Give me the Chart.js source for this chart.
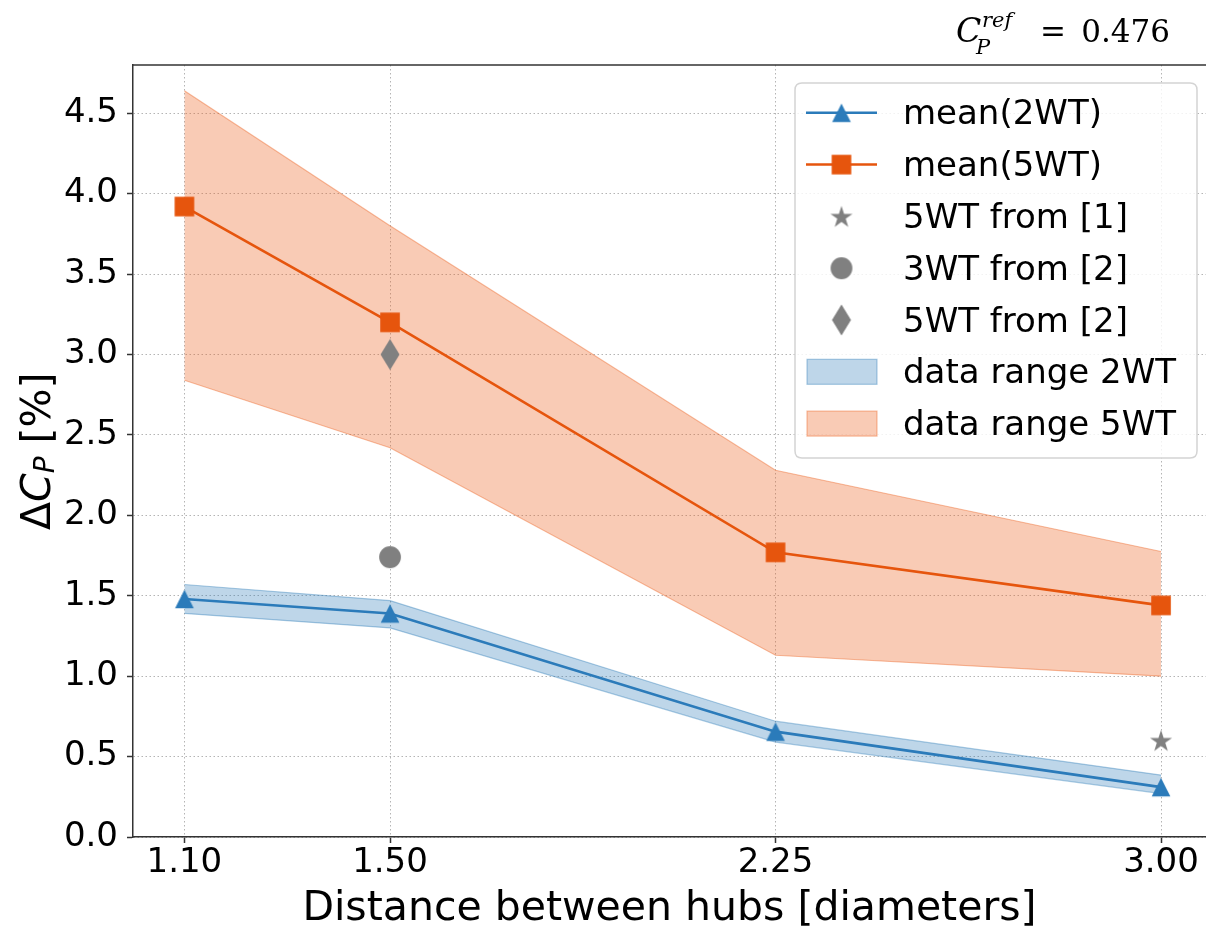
<!DOCTYPE html>
<html><head><meta charset="utf-8">
<script src="https://cdn.jsdelivr.net/npm/chart.js@4.4.1/dist/chart.umd.min.js"></script>
<style>html,body{margin:0;padding:0;background:#fff;overflow:hidden}#wrap{width:1206px;height:933px;position:relative}</style>
</head><body><div id="wrap"><canvas id="c" width="1206" height="933"></canvas></div>
<script>
// ---- data ----
const distances = [1.10, 1.50, 2.25, 3.00];
const xTickLabels = ['1.10', '1.50', '2.25', '3.00'];
const yTickValues = [0, 0.5, 1.0, 1.5, 2.0, 2.5, 3.0, 3.5, 4.0, 4.5];
const yTickLabels = ['0.0', '0.5', '1.0', '1.5', '2.0', '2.5', '3.0', '3.5', '4.0', '4.5'];
const mean2WT = [1.48, 1.39, 0.655, 0.31];
const low2WT = [1.39, 1.30, 0.59, 0.27];
const high2WT = [1.57, 1.47, 0.72, 0.385];
const mean5WT = [3.92, 3.20, 1.77, 1.44];
const low5WT = [2.84, 2.42, 1.13, 1.00];
const high5WT = [4.64, 3.80, 2.28, 1.775];
const ref1x_5WT = [3.00], ref1y_5WT = [0.60];
const ref2x_3WT = [1.50], ref2y_3WT = [1.74];
const ref2x_5WT = [1.50], ref2y_5WT = [3.00];
const legendLabels = ['mean(2WT)', 'mean(5WT)', '5WT from [1]', '3WT from [2]', '5WT from [2]', 'data range 2WT', 'data range 5WT'];

// ---- styles ----
const BLUE = '#2b7bba', ORANGE = '#e6550d', GRAY = '#808080';
const BLUE_FILL = 'rgba(40,120,181,0.3)', ORANGE_FILL = 'rgba(236,92,26,0.32)';
const BLUE_EDGE = 'rgba(40,120,181,0.38)', ORANGE_EDGE = 'rgba(236,92,26,0.4)';
const FONT = "'DejaVu Sans', sans-serif";

function pts(xs, ys) { return xs.map((x, i) => ({x: x, y: ys[i]})); }
function mk(w, h, color, draw) {
  const c = document.createElement('canvas'); c.width = w; c.height = h;
  const g = c.getContext('2d'); g.fillStyle = color; g.beginPath(); draw(g, w / 2, h / 2); g.closePath(); g.fill();
  return c;
}
const triImg = mk(24, 24, BLUE, (g, cx, cy) => { const s = 9.3; g.moveTo(cx, cy - s); g.lineTo(cx + s, cy + s); g.lineTo(cx - s, cy + s); });
const sqImg = mk(24, 24, ORANGE, (g, cx, cy) => { const s = 9.8; g.rect(cx - s, cy - s, 2 * s, 2 * s); });
const circImg = mk(26, 26, GRAY, (g, cx, cy) => { g.arc(cx, cy, 10.9, 0, Math.PI * 2); });
const diaImg = mk(24, 36, GRAY, (g, cx, cy) => { g.moveTo(cx, cy - 15.5); g.lineTo(cx + 9.5, cy); g.lineTo(cx, cy + 15.5); g.lineTo(cx - 9.5, cy); });
const starImg = mk(28, 28, GRAY, (g, cx, cy) => {
  const R = 11.6, r = R * 0.381966; const oy = cy + 1;
  for (let i = 0; i < 10; i++) { const a = -Math.PI / 2 + i * Math.PI / 5; const rr = i % 2 ? r : R;
    const px = cx + rr * Math.cos(a), py = oy + rr * Math.sin(a); if (i === 0) g.moveTo(px, py); else g.lineTo(px, py); }
});

const extras = {
  id: 'extras',
  afterDraw(chart) {
    const ctx = chart.ctx, ca = chart.chartArea;
    ctx.save();
    // top spine
    ctx.strokeStyle = '#333'; ctx.lineWidth = 1.5;
    ctx.beginPath(); ctx.moveTo(ca.left, ca.top); ctx.lineTo(chart.width, ca.top); ctx.stroke();
    // y title: ΔC_P [%]
    ctx.save();
    ctx.translate(50, 530); ctx.rotate(-Math.PI / 2);
    ctx.fillStyle = '#000'; ctx.textBaseline = 'alphabetic'; ctx.textAlign = 'left';
    let x = 0;
    ctx.font = '41px ' + FONT; ctx.fillText('Δ', x, 0); x += ctx.measureText('Δ').width;
    ctx.font = 'oblique 41px ' + FONT; ctx.fillText('C', x, 0); x += ctx.measureText('C').width;
    ctx.font = 'oblique 28px ' + FONT; ctx.fillText('P', x, 4); x += ctx.measureText('P').width;
    ctx.font = '41px ' + FONT; ctx.fillText(' [%]', x, 0);
    ctx.restore();
    // top-right annotation
    ctx.fillStyle = '#000'; ctx.textBaseline = 'alphabetic';
    ctx.font = "italic 33px 'DejaVu Serif', serif"; ctx.textAlign = 'left'; ctx.fillText('C', 956, 42);
    ctx.font = "italic 21px 'DejaVu Serif', serif"; ctx.fillText('P', 976, 54); ctx.fillText('ref', 982, 27);
    ctx.font = "31px 'DejaVu Serif', serif"; ctx.fillText('=', 1040, 42);
    ctx.textAlign = 'right'; ctx.fillText('0.476', 1170, 42);
    // legend
    const bx = 795, by = 83, bw = 402, bh = 375, rad = 7;
    ctx.beginPath();
    ctx.moveTo(bx + rad, by); ctx.lineTo(bx + bw - rad, by); ctx.quadraticCurveTo(bx + bw, by, bx + bw, by + rad);
    ctx.lineTo(bx + bw, by + bh - rad); ctx.quadraticCurveTo(bx + bw, by + bh, bx + bw - rad, by + bh);
    ctx.lineTo(bx + rad, by + bh); ctx.quadraticCurveTo(bx, by + bh, bx, by + bh - rad);
    ctx.lineTo(bx, by + rad); ctx.quadraticCurveTo(bx, by, bx + rad, by); ctx.closePath();
    ctx.fillStyle = 'rgba(255,255,255,0.82)'; ctx.fill();
    ctx.strokeStyle = '#d4d4d4'; ctx.lineWidth = 1.5; ctx.stroke();
    ctx.textAlign = 'left'; ctx.font = '34px ' + FONT; ctx.fillStyle = '#000';
    const hx0 = 806, hx1 = 877, hc = 841.5;
    legendLabels.forEach((lab, i) => {
      const base = 124.3 + 51.8 * i, cy = base - 11.5;
      ctx.fillStyle = '#000'; ctx.fillText(lab, 903, base);
      if (i < 2) {
        ctx.strokeStyle = i === 0 ? BLUE : ORANGE; ctx.lineWidth = 2.5;
        ctx.beginPath(); ctx.moveTo(hx0, cy); ctx.lineTo(hx1, cy); ctx.stroke();
        const im = i === 0 ? triImg : sqImg; ctx.drawImage(im, hc - im.width / 2, cy - im.height / 2);
      } else if (i < 5) {
        const im = [starImg, circImg, diaImg][i - 2]; ctx.drawImage(im, hc - im.width / 2, cy - im.height / 2);
      } else {
        ctx.fillStyle = i === 5 ? BLUE_FILL : ORANGE_FILL; ctx.fillRect(807, cy - 12.5, 70, 25);
        ctx.strokeStyle = i === 5 ? BLUE_EDGE : ORANGE_EDGE; ctx.lineWidth = 1.2; ctx.strokeRect(807, cy - 12.5, 70, 25);
      }
    });
    ctx.restore();
  }
};

Chart.defaults.font.family = FONT;
new Chart(document.getElementById('c'), {
  type: 'line',
  data: {
    datasets: [
      {label: '5WT from [1]', data: pts(ref1x_5WT, ref1y_5WT), showLine: false, pointStyle: starImg, pointRadius: 10},
      {label: '3WT from [2]', data: pts(ref2x_3WT, ref2y_3WT), showLine: false, pointStyle: circImg, pointRadius: 10},
      {label: '5WT from [2]', data: pts(ref2x_5WT, ref2y_5WT), showLine: false, pointStyle: diaImg, pointRadius: 10},
      {label: 'mean(2WT)', data: pts(distances, mean2WT), borderColor: BLUE, borderWidth: 2.6, pointStyle: triImg, pointRadius: 10, fill: false},
      {label: 'mean(5WT)', data: pts(distances, mean5WT), borderColor: ORANGE, borderWidth: 2.6, pointStyle: sqImg, pointRadius: 10, fill: false},
      {label: 'high2WT', data: pts(distances, high2WT), borderColor: BLUE_EDGE, borderWidth: 1.2, pointRadius: 0, backgroundColor: BLUE_FILL, fill: '+1'},
      {label: 'low2WT', data: pts(distances, low2WT), borderColor: BLUE_EDGE, borderWidth: 1.2, pointRadius: 0, fill: false},
      {label: 'high5WT', data: pts(distances, high5WT), borderColor: ORANGE_EDGE, borderWidth: 1.2, pointRadius: 0, backgroundColor: ORANGE_FILL, fill: '+1'},
      {label: 'low5WT', data: pts(distances, low5WT), borderColor: ORANGE_EDGE, borderWidth: 1.2, pointRadius: 0, fill: false}
    ]
  },
  options: {
    responsive: false, animation: false, devicePixelRatio: 1,
    layout: {autoPadding: false, padding: {top: 65, left: 0, right: 0, bottom: 0}},
    elements: {line: {tension: 0}},
    plugins: {legend: {display: false}, tooltip: {enabled: false}},
    scales: {
      x: {
        type: 'linear', min: 1.0, max: 3.0875,
        afterBuildTicks: s => { s.ticks = distances.map(v => ({value: v})); },
        afterFit: s => { s.height = 96; s.paddingLeft = 0; s.paddingRight = 0; },
        ticks: {callback: (v, i) => xTickLabels[i], font: {size: 34}, color: '#000', padding: 0, maxRotation: 0, autoSkip: false},
        grid: {color: '#b4b4b4', lineWidth: 1, drawTicks: true, tickLength: 6, tickColor: '#333', tickWidth: 1.5},
        border: {display: true, color: '#333', width: 1.5, dash: [1.5, 2.5]},
        title: {display: true, text: 'Distance between hubs [diameters]', font: {size: 41, lineHeight: 1}, color: '#000', padding: {top: 0, bottom: 3}}
      },
      y: {
        type: 'linear', min: 0, max: 4.8,
        afterBuildTicks: s => { s.ticks = yTickValues.map(v => ({value: v})); },
        afterFit: s => { s.width = 133; s.paddingTop = 0; s.paddingBottom = 0; },
        ticks: {callback: (v, i) => yTickLabels[i], font: {size: 34}, color: '#000', padding: 9, autoSkip: false},
        grid: {color: '#b4b4b4', lineWidth: 1, drawTicks: true, tickLength: 6, tickColor: '#333', tickWidth: 1.5},
        border: {display: true, color: '#333', width: 1.5, dash: [1.5, 2.5]}
      }
    }
  },
  plugins: [extras]
});
</script>
</body></html>
